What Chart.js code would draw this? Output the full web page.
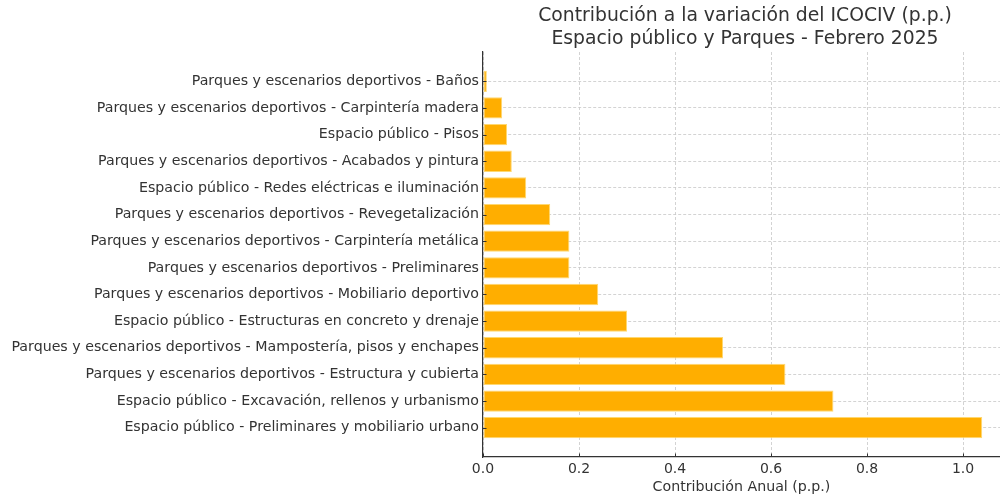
<!DOCTYPE html>
<html>
<head>
<meta charset="utf-8">
<script src="https://cdn.jsdelivr.net/npm/chart.js@4"></script>
<style>
html,body{margin:0;padding:0;background:#fff;overflow:hidden;}
#wrap{width:1000px;height:497px;position:relative;}
</style>
</head>
<body>
<div id="wrap"><canvas id="c" width="1000" height="497"></canvas></div>
<script>
const categories = [
  "Parques y escenarios deportivos - Baños",
  "Parques y escenarios deportivos - Carpintería madera",
  "Espacio público - Pisos",
  "Parques y escenarios deportivos - Acabados y pintura",
  "Espacio público - Redes eléctricas e iluminación",
  "Parques y escenarios deportivos - Revegetalización",
  "Parques y escenarios deportivos - Carpintería metálica",
  "Parques y escenarios deportivos - Preliminares",
  "Parques y escenarios deportivos - Mobiliario deportivo",
  "Espacio público - Estructuras en concreto y drenaje",
  "Parques y escenarios deportivos - Mampostería, pisos y enchapes",
  "Parques y escenarios deportivos - Estructura y cubierta",
  "Espacio público - Excavación, rellenos y urbanismo",
  "Espacio público - Preliminares y mobiliario urbano"
];
const values = [0.008, 0.04, 0.05, 0.06, 0.09, 0.14, 0.18, 0.18, 0.24, 0.30, 0.50, 0.63, 0.73, 1.04];
const xTicks = [0.0, 0.2, 0.4, 0.6, 0.8, 1.0];
const titleLines = ["Contribución a la variación del ICOCIV (p.p.)", "Espacio público y Parques - Febrero 2025"];
const xTitle = "Contribución Anual (p.p.)";

const FONT = "'DejaVu Sans', sans-serif";
const TEXT = '#333333';

const titlePlugin = {
  id: 'areaTitle',
  afterDraw(chart) {
    const ctx = chart.ctx, a = chart.chartArea;
    const cx = (a.left + 1007) / 2;
    ctx.save();
    ctx.fillStyle = TEXT;
    ctx.font = "18.8px " + FONT;
    ctx.textAlign = 'center';
    ctx.textBaseline = 'middle';
    ctx.fillText(titleLines[0], cx, 16);
    ctx.fillText(titleLines[1], cx, 39);
    // inward tick marks
    ctx.strokeStyle = '#333';
    ctx.lineWidth = 1;
    const ys = chart.scales.y, xs = chart.scales.x;
    ys.ticks.forEach(t => {
      const py = Math.round(ys.getPixelForValue(t.value)) + 0.5;
      ctx.beginPath(); ctx.moveTo(a.left, py); ctx.lineTo(a.left + 3.5, py); ctx.stroke();
    });
    xs.ticks.forEach(t => {
      const px = Math.round(xs.getPixelForValue(t.value)) + 0.5;
      ctx.beginPath(); ctx.moveTo(px, a.bottom); ctx.lineTo(px, a.bottom - 3.5); ctx.stroke();
    });
    ctx.restore();
  }
};

new Chart(document.getElementById('c'), {
  type: 'bar',
  data: {
    datasets: [{
      data: values.map((v, i) => ({x: v, y: i})),
      backgroundColor: '#FFAE00',
      borderColor: '#FFD870',
      borderWidth: 1,
      borderSkipped: false,
      barPercentage: 0.8,
      categoryPercentage: 1.0
    }]
  },
  options: {
    indexAxis: 'y',
    responsive: false,
    animation: false,
    layout: {padding: {top: 52, right: 0, bottom: 0, left: 0}},
    plugins: {legend: {display: false}, tooltip: {enabled: false}, title: {display: false}},
    scales: {
      y: {
        type: 'linear',
        reverse: true,
        offset: false,
        min: -1.1,
        max: 14.1,
        afterBuildTicks(s) { s.ticks = categories.map((c, i) => ({value: i})); },
        afterFit(s) { s.width = 483; },
        ticks: {
          callback: (v) => categories[v],
          color: TEXT,
          font: {family: FONT, size: 14.2},
          padding: 4,
          autoSkip: false
        },
        grid: {offset: false, drawTicks: false, color: 'rgba(200,200,200,0.8)', lineWidth: 1},
        border: {display: true, color: '#333', width: 1.2, dash: [3, 2]},
      },
      x: {
        type: 'linear',
        offset: false,
        min: 0,
        max: 1.077,
        afterBuildTicks(s) { s.ticks = xTicks.map(v => ({value: v})); },
        afterFit(s) { s.height = 40; },
        ticks: {
          callback: (v) => Number(v).toFixed(1),
          color: TEXT,
          font: {family: FONT, size: 14},
          padding: 4,
          maxRotation: 0
        },
        title: {display: true, text: xTitle, color: TEXT, font: {family: FONT, size: 14.2}, padding: {top: 0, bottom: 1}},
        grid: {offset: false, drawTicks: false, color: 'rgba(200,200,200,0.8)', lineWidth: 1},
        border: {display: true, color: '#333', width: 1.2, dash: [3, 2]}
      }
    }
  },
  plugins: [titlePlugin]
});
</script>
</body>
</html>
